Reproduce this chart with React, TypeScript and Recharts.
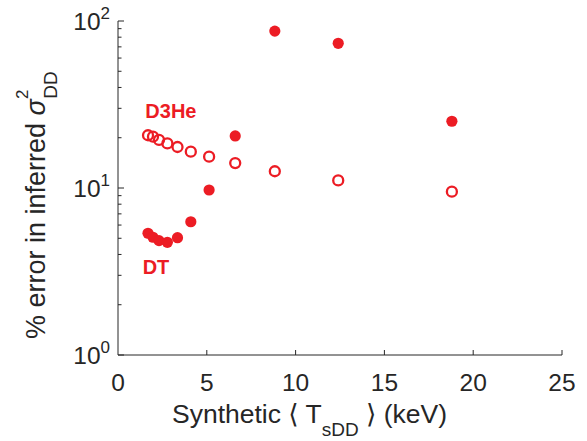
import React from 'react'
import {
  ScatterChart, Scatter, XAxis, YAxis, ReferenceDot,
} from 'recharts'

// synthetic burn-averaged DD temperature (keV), shared by both series
const temps = [1.69, 1.97, 2.31, 2.78, 3.35, 4.1, 5.13, 6.6, 8.83, 12.4, 18.8]
// % error in inferred sigma^2_DD
const d3heErr = [20.7, 20.3, 19.4, 18.5, 17.6, 16.5, 15.4, 14.1, 12.6, 11.1, 9.5]
const dtErr = [5.36, 5.07, 4.84, 4.73, 5.04, 6.28, 9.73, 20.5, 87, 73.5, 25.1]

const xTicks = [0, 5, 10, 15, 20, 25]
const yMajor = [1, 10, 100]
const yMinor = [2, 3, 4, 5, 6, 7, 8, 9, 20, 30, 40, 50, 60, 70, 80, 90]
const yTicks = [...yMajor, ...yMinor].sort((a, b) => a - b)

const seriesLabels = [
  { name: 'D3He', t: 1.54, err: 26.2 },
  { name: 'DT', t: 1.39, err: 3.05 },
]

const RED = '#ec1c24'
const INK = '#262626'
const FONT = '"Liberation Sans", Arial, Helvetica, "DejaVu Sans", sans-serif'

const d3heData = temps.map((t, i) => ({ t, err: d3heErr[i] }))
const dtData = temps.map((t, i) => ({ t, err: dtErr[i] }))

const XTick = ({ x, y, payload }: any) => (
  <g>
    {payload.value !== 0 && <line x1={x} y1={y} x2={x} y2={y - 5} stroke={INK} strokeWidth={1} />}
    <text x={x} y={y + 36} textAnchor="middle" fontSize={24.5} fill={INK} fontFamily={FONT}>
      {payload.value}
    </text>
  </g>
)

const YTick = ({ x, y, payload }: any) => {
  const v = payload.value
  const major = yMajor.includes(v)
  return (
    <g>
      <line x1={x} y1={y} x2={x + (major ? 6 : 3.5)} y2={y} stroke={INK} strokeWidth={1} />
      {major && (
        <text x={x - 8} y={y + 9} textAnchor="end" fontSize={24.5} fill={INK} fontFamily={FONT}>
          10<tspan dy={-11} fontSize={17}>{Math.round(Math.log10(v))}</tspan>
        </text>
      )}
    </g>
  )
}

const YLabel = ({ viewBox }: any) => {
  const bx = viewBox.x + 45
  const by = viewBox.y + viewBox.height - 16
  return (
    <text transform={`translate(${bx},${by}) rotate(-90)`} x={0} y={0}
      fontSize={27} fill={INK} fontFamily={FONT}>
      % error in inferred <tspan fontStyle="italic">σ</tspan>
      <tspan dy={-17} fontSize={17}>2</tspan>
      <tspan dx={-9} dy={29} fontSize={19}>DD</tspan>
    </text>
  )
}

const XLabel = () => (
  <text x={172} y={423} fontSize={26.5} fill={INK} fontFamily={FONT}>
    Synthetic ⟨ T<tspan dy={13} fontSize={19}>sDD</tspan><tspan dy={-13}> ⟩ (keV)</tspan>
  </text>
)

const filledDot = (p: any) => <circle cx={p.cx} cy={p.cy} r={5.6} fill={RED} />
const openDot = (p: any) => <circle cx={p.cx} cy={p.cy} r={5} fill="none" stroke={RED} strokeWidth={2.3} />

export default function App() {
  return (
    <div style={{ position: 'absolute', left: 0, top: 0, background: '#fff' }}>
      <ScatterChart width={587} height={441} margin={{ top: 21, right: 25, bottom: 0, left: 0 }}>
        <XAxis
          type="number" dataKey="t" domain={[0, 25]} ticks={xTicks} interval={0}
          height={86} tickSize={0} tickMargin={0} tickLine={false}
          axisLine={{ stroke: INK }} tick={<XTick />} label={<XLabel />}
        />
        <YAxis
          type="number" dataKey="err" scale="log" domain={[1, 100]} ticks={yTicks}
          interval={0} width={118} tickSize={0} tickMargin={0} tickLine={false}
          axisLine={{ stroke: INK }} tick={<YTick />} label={<YLabel />}
          allowDataOverflow
        />
        <Scatter data={d3heData} shape={openDot} isAnimationActive={false} />
        <Scatter data={dtData} shape={filledDot} isAnimationActive={false} />
        {seriesLabels.map((l) => (
          <ReferenceDot
            key={l.name} x={l.t} y={l.err} r={0}
            shape={(p: any) => (
              <text x={p.cx} y={p.cy} fontSize={20} fontWeight="bold" fill={RED} fontFamily={FONT}>
                {l.name}
              </text>
            )}
          />
        ))}
      </ScatterChart>
    </div>
  )
}
